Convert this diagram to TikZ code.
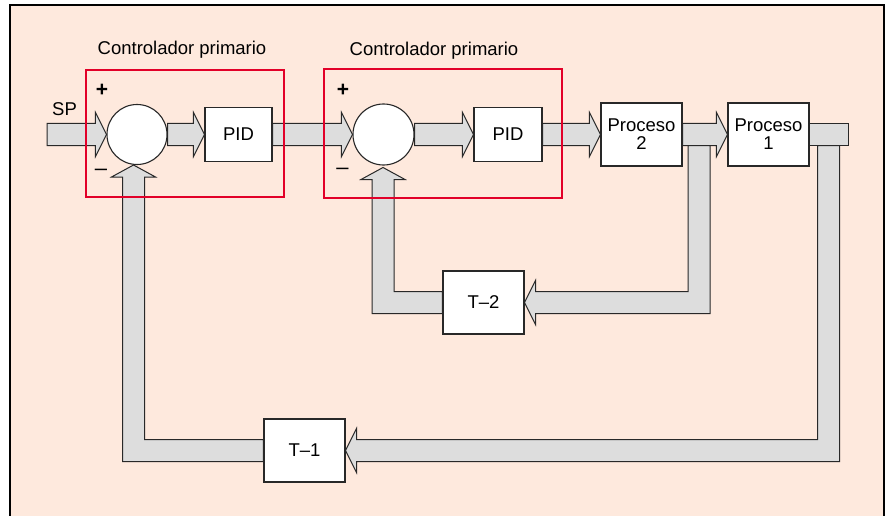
\documentclass[tikz,border=0pt]{standalone}
\usepackage{fontspec}
\setmainfont{Liberation Sans}
\usetikzlibrary{calc}
\pgfdeclarelayer{bg}
\pgfdeclarelayer{bars}
\pgfsetlayers{bg,bars,main}
\definecolor{peach}{RGB}{254,233,221}
\definecolor{bargray}{RGB}{221,221,221}
\definecolor{redbox}{RGB}{226,0,40}
\definecolor{edge}{RGB}{40,40,40}
\newcommand\fatR[2]{\draw[bar] let \p1=(#1), \p2=(#2) in (\x1,\y2+11pt) -- (\x2-11pt,\y2+11pt) -- (\x2-11pt,\y2+22pt) -- (\x2,\y2) -- (\x2-11pt,\y2-22pt) -- (\x2-11pt,\y2-11pt) -- (\x1,\y2-11pt) -- cycle;}
\newcommand\fatDownLeft[2]{\draw[bar] let \p1=(#1), \p2=(#2) in (\x1-11pt,\y1) -- (\x1-11pt,\y2+11pt) -- (\x2+11pt,\y2+11pt) -- (\x2+11pt,\y2+22pt) -- (\x2,\y2) -- (\x2+11pt,\y2-22pt) -- (\x2+11pt,\y2-11pt) -- (\x1+11pt,\y2-11pt) -- (\x1+11pt,\y1) -- cycle;}
\newcommand\fatLeftUp[2]{\draw[bar] let \p1=(#1), \p2=(#2) in (\x1,\y1+11pt) -- (\x2+11pt,\y1+11pt) -- (\x2+11pt,\y2-12pt) -- (\x2+22pt,\y2-12pt) -- (\x2,\y2) -- (\x2-22pt,\y2-12pt) -- (\x2-11pt,\y2-12pt) -- (\x2-11pt,\y1-11pt) -- (\x1,\y1-11pt) -- cycle;}
\begin{document}
\begin{tikzpicture}[x=1pt,y=-1pt,
  txt/.style={font=\fontsize{18.5}{18}\selectfont, inner sep=0pt},
  signtxt/.style={font=\fontsize{21}{21}\selectfont\bfseries, inner sep=0pt},
  minustxt/.style={font=\fontsize{22}{22}\selectfont, inner sep=0pt},
  blockbox/.style={draw=edge, line width=1.1pt, fill=white, inner sep=0pt, align=center, font=\fontsize{18.5}{18}\selectfont},
  sumnode/.style={circle, draw=edge, line width=1.1pt, fill=white, inner sep=0pt, minimum size=60pt},
  bar/.style={draw=edge, line width=1pt, fill=bargray, line join=miter},
  ctrlbox/.style={draw=redbox, line width=2pt, inner sep=0pt}
]
\useasboundingbox (0,0) rectangle (891,516);
\begin{pgfonlayer}{bg}
  \draw[fill=peach, line width=1.5pt] (10,5) rectangle (884,540);
\end{pgfonlayer}

% blocks
\node[sumnode] (sum1) at (137,134.5) {};
\node[blockbox, minimum width=67pt, minimum height=54pt] (pid1) at (238.5,134.5) {PID};
\node[sumnode, minimum size=61pt] (sum2) at (383.5,134.5) {};
\node[blockbox, minimum width=68pt, minimum height=54pt] (pid2) at (508,134.5) {PID};
\node[blockbox, minimum width=81pt, minimum height=63pt] (p2) at (641.5,134.5) {Proceso\\2};
\node[blockbox, minimum width=81pt, minimum height=63pt] (p1) at (768.5,134.5) {Proceso\\1};
\node[blockbox, minimum width=81pt, minimum height=63pt] (t2) at (483.5,302.5) {T–2};
\node[blockbox, minimum width=81pt, minimum height=63pt] (t1) at (304.5,450.5) {T–1};

% coordinates
\coordinate (sp) at (47,134.5);
\coordinate (out) at (848,134.5);
\coordinate (b2) at (699,145.5);
\coordinate (b1) at (828.5,145.5);
\coordinate (f1) at (133.5,165);
\coordinate (f2) at (383,167.5);

% fat arrows
\begin{pgfonlayer}{bars}
  \fatR{sp}{sum1.west}
  \fatR{sum1.east}{pid1.west}
  \fatR{pid1.east}{sum2.west}
  \fatR{sum2.east}{pid2.west}
  \fatR{pid2.east}{p2.west}
  \fatR{p2.east}{p1.west}
  \draw[bar] let \p1=(p1.east), \p2=(out) in (\x1,\y1+11pt) rectangle (\x2,\y1-11pt);
  \fatDownLeft{b2}{t2.east}
  \fatDownLeft{b1}{t1.east}
  \fatLeftUp{t2.west}{f2}
  \fatLeftUp{t1.west}{f1}
\end{pgfonlayer}

% controller frames
\node[ctrlbox, minimum width=198pt, minimum height=127pt] (c1) at (185,133.5) {};
\node[ctrlbox, minimum width=238pt, minimum height=129pt] (c2) at (443,133.5) {};

% labels
\node[txt] (lab1) at (182,50) {Controlador primario};
\node[txt] (lab2) at (434,51) {Controlador primario};
\node[txt] (splab) at (64.5,109) {SP};
\node[signtxt] (plus1) at (102,90.5) {+};
\node[minustxt] (minus1) at (101,172.5) {–};
\node[signtxt] (plus2) at (343,90.5) {+};
\node[minustxt] (minus2) at (342.5,171.5) {–};
\end{tikzpicture}
\end{document}
